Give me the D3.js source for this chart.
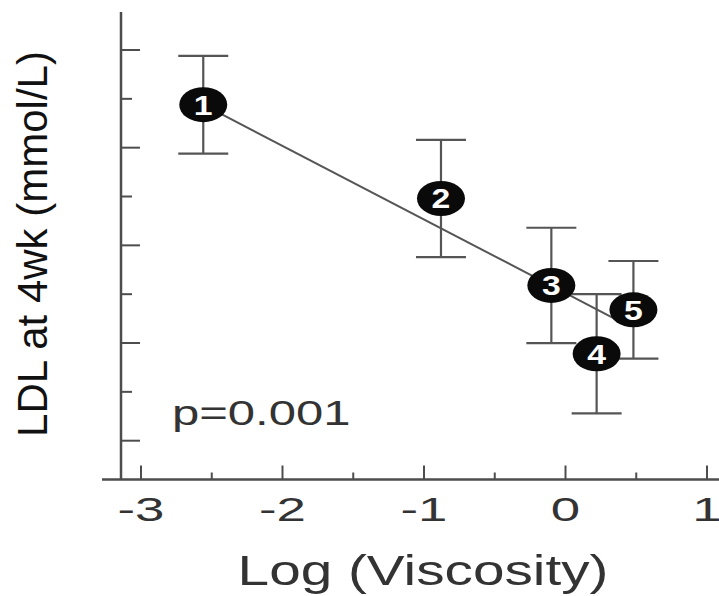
<!DOCTYPE html>
<html>
<head>
<meta charset="utf-8">
<script src="https://cdn.jsdelivr.net/npm/d3@7"></script>
<style>
  body { margin: 0; background: #fff; }
  text { font-family: "Liberation Sans", Arial, sans-serif; }
</style>
</head>
<body>
<svg id="chart" width="719" height="596"></svg>
<script>
// data
const groups = ["1", "2", "3", "4", "5"];
const logVisc = [-2.56, -0.88, -0.10, 0.22, 0.48];
const ldl = [4.44, 3.48, 2.59, 1.89, 2.34];
const ldlErr = [0.50, 0.60, 0.59, 0.61, 0.50];

// regression line endpoints
const fitX = [-2.56, 0.40];
const fitY = [4.44, 2.21];

const xTicks = [-3, -2, -1, 0, 1];
const xMinor = [-2.5, -1.5, -0.5, 0.5];
const yTicks = [1, 2, 3, 4, 5];
const yMinor = [1.5, 2.5, 3.5, 4.5];

const pText = "p=0.001";
const xTitle = "Log (Viscosity)";
const yTitle = "LDL at 4wk (mmol/L)";

const svg = d3.select("#chart");
const axisColor = "#4d4d4d";

const x = d3.scaleLinear().domain([-3, 1]).range([141, 707]);
const y = d3.scaleLinear().domain([1, 5]).range([440.7, 50]);
const baseY = 479.5;
const axisX = 121;

// stretch a text horizontally like the picture does
function stretch(sel, k) {
  sel.each(function() {
    const w = this.getComputedTextLength();
    d3.select(this).attr("textLength", w * k).attr("lengthAdjust", "spacingAndGlyphs");
  });
}

// axes
svg.append("line")
  .attr("x1", 102).attr("x2", 719).attr("y1", baseY).attr("y2", baseY)
  .attr("stroke", axisColor).attr("stroke-width", 2.5);
svg.append("line")
  .attr("x1", axisX).attr("x2", axisX).attr("y1", 12).attr("y2", baseY)
  .attr("stroke", axisColor).attr("stroke-width", 2.5);

// x ticks
svg.selectAll(".xt").data(xTicks).enter().append("line")
  .attr("x1", d => x(d)).attr("x2", d => x(d))
  .attr("y1", baseY).attr("y2", baseY - 14)
  .attr("stroke", axisColor).attr("stroke-width", 2);
svg.selectAll(".xm").data(xMinor).enter().append("line")
  .attr("x1", d => x(d)).attr("x2", d => x(d))
  .attr("y1", baseY).attr("y2", baseY - 7)
  .attr("stroke", axisColor).attr("stroke-width", 2);

svg.selectAll(".xl").data(xTicks).enter().append("text")
  .attr("x", d => x(d)).attr("y", 521)
  .attr("text-anchor", "middle")
  .attr("font-size", 33).attr("fill", "#333")
  .text(d => d)
  .call(stretch, 1.6);

// y ticks (pointing inside)
svg.selectAll(".yt").data(yTicks).enter().append("line")
  .attr("x1", axisX).attr("x2", axisX + 19)
  .attr("y1", d => y(d)).attr("y2", d => y(d))
  .attr("stroke", axisColor).attr("stroke-width", 2);
svg.selectAll(".ym").data(yMinor).enter().append("line")
  .attr("x1", axisX).attr("x2", axisX + 11)
  .attr("y1", d => y(d)).attr("y2", d => y(d))
  .attr("stroke", axisColor).attr("stroke-width", 2);

// titles
svg.append("text")
  .attr("x", 423).attr("y", 585)
  .attr("text-anchor", "middle")
  .attr("font-size", 42).attr("fill", "#333")
  .text(xTitle)
  .call(stretch, 1.35);

svg.append("text")
  .attr("transform", "translate(47,244) rotate(-90)")
  .attr("text-anchor", "middle")
  .attr("font-size", 42).attr("fill", "#111")
  .text(yTitle);

svg.append("text")
  .attr("x", 172).attr("y", 425)
  .attr("font-size", 35).attr("fill", "#333")
  .text(pText)
  .call(stretch, 1.4);

// regression line
svg.append("line")
  .attr("x1", x(fitX[0])).attr("y1", y(fitY[0]))
  .attr("x2", x(fitX[1])).attr("y2", y(fitY[1]))
  .attr("stroke", "#555").attr("stroke-width", 2);

const pts = groups.map((g, i) => ({ g: g, vx: logVisc[i], vy: ldl[i], e: ldlErr[i] }));

// error bars
const eb = svg.selectAll(".eb").data(pts).enter().append("g");
eb.append("line")
  .attr("x1", d => x(d.vx)).attr("x2", d => x(d.vx))
  .attr("y1", d => y(d.vy + d.e)).attr("y2", d => y(d.vy - d.e))
  .attr("stroke", "#555").attr("stroke-width", 2.2);
eb.selectAll(".cap").data(d => [d.vy + d.e, d.vy - d.e].map(v => ({ vx: d.vx, v: v })))
  .enter().append("line")
  .attr("x1", d => x(d.vx) - 25).attr("x2", d => x(d.vx) + 25)
  .attr("y1", d => y(d.v)).attr("y2", d => y(d.v))
  .attr("stroke", "#555").attr("stroke-width", 2.2);

// numbered markers
const mk = svg.selectAll(".mk").data(pts).enter().append("g")
  .attr("transform", d => "translate(" + x(d.vx) + "," + y(d.vy) + ")");
mk.append("ellipse")
  .attr("rx", 24).attr("ry", 17.5)
  .attr("fill", "#0a0a0a");
mk.append("text")
  .attr("text-anchor", "middle")
  .attr("y", 10)
  .attr("font-size", 27).attr("font-weight", "bold").attr("fill", "#fff")
  .text(d => d.g)
  .call(stretch, 1.25);
</script>
</body>
</html>
